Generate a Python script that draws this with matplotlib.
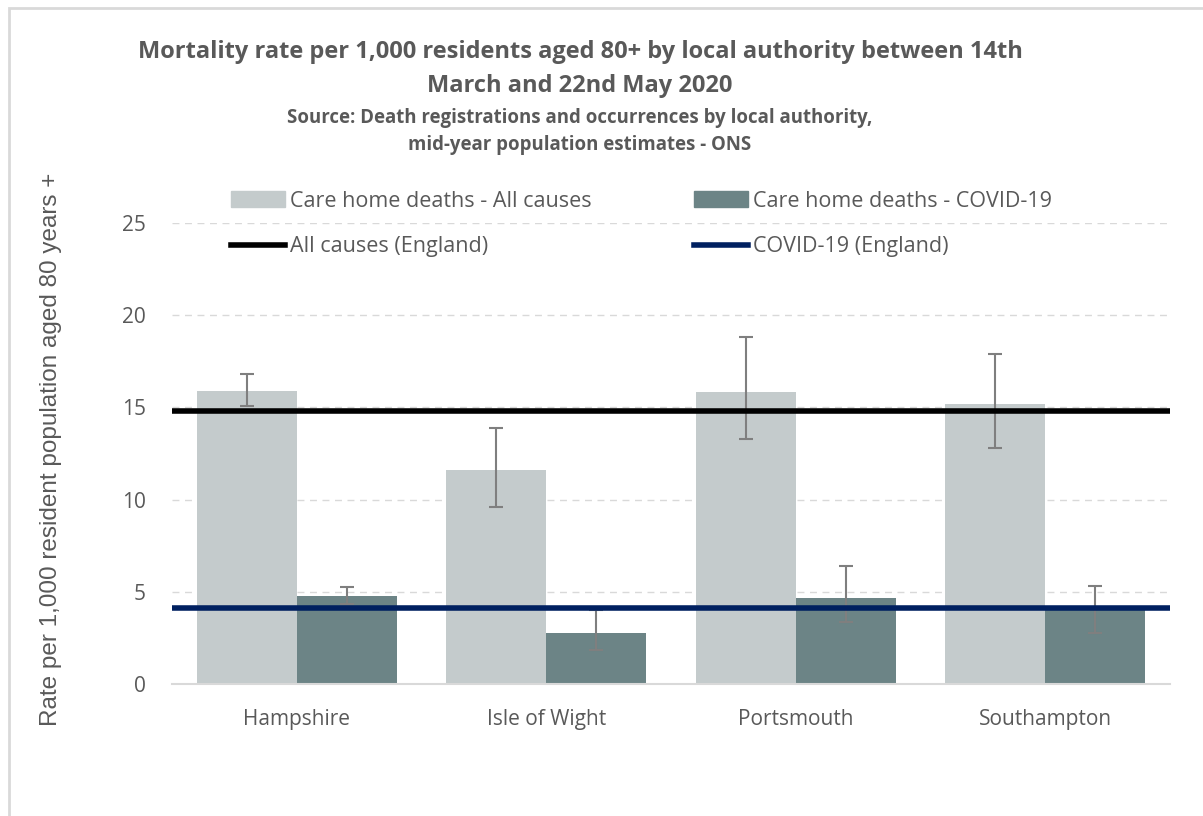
import numpy as np
import matplotlib
matplotlib.use("Agg")
import matplotlib.pyplot as plt
from matplotlib.patches import Rectangle
from matplotlib.lines import Line2D

areas = ["Hampshire", "Isle of Wight", "Portsmouth", "Southampton"]
all_causes = [15.9, 11.6, 15.85, 15.2]
all_low = [15.1, 9.6, 13.3, 12.8]
all_high = [16.8, 13.9, 18.8, 17.9]
covid = [4.75, 2.75, 4.65, 4.0]
covid_low = [4.35, 1.85, 3.35, 2.75]
covid_high = [5.25, 4.0, 6.4, 5.3]
england_all = 14.8
england_covid = 4.1

grey_text = "#595959"
light = "#C4CBCC"
dark = "#6C8486"

plt.rcParams['font.family'] = ['Open Sans', 'DejaVu Sans']

fig = plt.figure(figsize=(12.03, 8.16), dpi=100)
ax = fig.add_axes([172 / 1203, 1 - 684 / 816, 998 / 1203, 461 / 816])

# chart border (only top and left visible in the reference)
fig.patches.append(Rectangle((9 / 1203, -0.1), 1.2, (816 - 8) / 816 + 0.1,
                             transform=fig.transFigure, fill=False,
                             edgecolor="#D9D9D9", linewidth=2))

x = np.arange(len(areas))
w = 0.4
a = np.array(all_causes)
c = np.array(covid)
ax.bar(x - w / 2, a, w, color=light, zorder=2)
ax.bar(x + w / 2, c, w, color=dark, zorder=2)

ax.errorbar(x - w / 2, a, yerr=[a - np.array(all_low), np.array(all_high) - a],
            fmt="none", ecolor="#7F7F7F", elinewidth=1.5, capsize=5, capthick=1.5, zorder=3)
ax.errorbar(x + w / 2, c, yerr=[c - np.array(covid_low), np.array(covid_high) - c],
            fmt="none", ecolor="#7F7F7F", elinewidth=1.5, capsize=5, capthick=1.5, zorder=3)

ax.plot([-0.5, 3.5], [england_all, england_all], color="black", linewidth=4, zorder=4,
        solid_capstyle="butt")
ax.plot([-0.5, 3.5], [england_covid, england_covid], color="#002060", linewidth=4, zorder=4,
        solid_capstyle="butt")

ax.set_xlim(-0.5, 3.5)
ax.set_ylim(0, 25)
ax.set_yticks([0, 5, 10, 15, 20, 25])
ax.yaxis.grid(True, linestyle=(0, (5, 4)), color="#D9D9D9", linewidth=1, zorder=0)
ax.set_axisbelow(True)
for s in ["top", "right", "left"]:
    ax.spines[s].set_visible(False)
ax.spines["bottom"].set_color("#D9D9D9")
ax.spines["bottom"].set_linewidth(1.5)
ax.tick_params(length=0, labelsize=15, colors=grey_text)
ax.tick_params(axis="y", pad=19)
ax.tick_params(axis="x", pad=18)
ax.set_xticks(x)
ax.set_xticklabels(areas)

ax.set_ylabel("Rate per 1,000 resident population aged 80 years +", fontsize=17.5,
              color=grey_text, family=["Liberation Sans", "DejaVu Sans"])
ax.yaxis.set_label_coords(-110 / 998, 0.51)

fig.text(580 / 1203, 1 - 52 / 816, "Mortality rate per 1,000 residents aged 80+ by local authority between 14th",
         ha="center", va="center", fontsize=17, fontweight="bold", color=grey_text)
fig.text(580 / 1203, 1 - 86 / 816, "March and 22nd May 2020",
         ha="center", va="center", fontsize=17, fontweight="bold", color=grey_text)
fig.text(580 / 1203, 1 - 118 / 816, "Source: Death registrations and occurrences by local authority,",
         ha="center", va="center", fontsize=13.4, fontweight="bold", color=grey_text)
fig.text(580 / 1203, 1 - 145 / 816, "mid-year population estimates - ONS",
         ha="center", va="center", fontsize=13.4, fontweight="bold", color=grey_text)

# matplotlib fills columns first, so order is light, black, dark, blue
handles = [Rectangle((0, 0), 1, 1, color=light),
           Line2D([0], [0], color="black", linewidth=4),
           Rectangle((0, 0), 1, 1, color=dark),
           Line2D([0], [0], color="#002060", linewidth=4)]
labels = ["Care home deaths - All causes", "All causes (England)",
          "Care home deaths - COVID-19", "COVID-19 (England)"]
leg = fig.legend(handles, labels, ncol=2, loc="center left",
                 bbox_to_anchor=(212 / 1203, 1 - 224 / 816), frameon=False,
                 fontsize=15.5, handlelength=2.5, handletextpad=0.2,
                 columnspacing=4.8, labelspacing=1.15, handleheight=0.75)
for t in leg.get_texts():
    t.set_color(grey_text)

fig.savefig("out.png", dpi=100)
